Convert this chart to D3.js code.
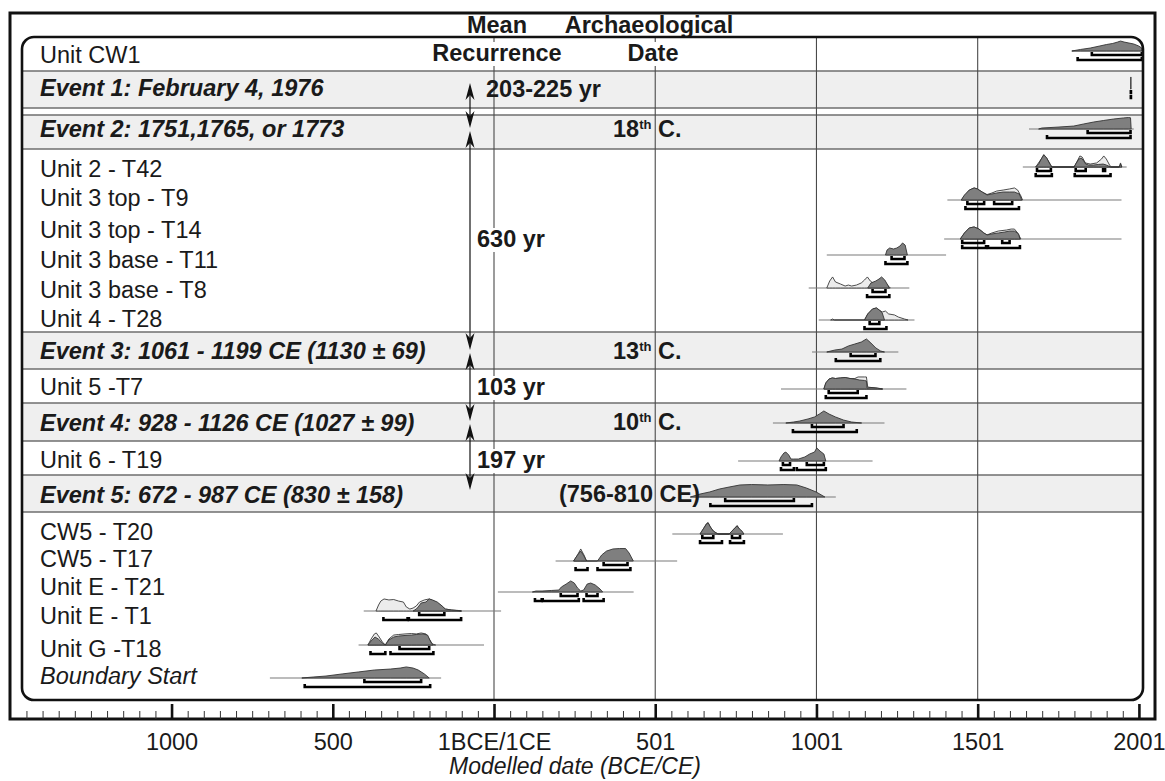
<!DOCTYPE html>
<html>
<head>
<meta charset="utf-8">
<script src="https://cdn.jsdelivr.net/npm/d3@7"></script>
<style>
  body { margin: 0; background: #fff; }
  svg { display: block; }
  text { font-family: "Liberation Sans", Arial, sans-serif; fill: #1a1a1a; }
</style>
</head>
<body>
<svg id="chart" width="1165" height="781"></svg>
<script>
// ---------------- data ----------------
// Row names, top to bottom
const rowLabels = [
  "Unit CW1",
  "Event 1: February 4, 1976",
  "Event 2: 1751,1765, or 1773",
  "Unit 2 - T42",
  "Unit 3 top - T9",
  "Unit 3 top - T14",
  "Unit 3 base - T11",
  "Unit 3 base - T8",
  "Unit 4 - T28",
  "Event 3: 1061 - 1199 CE (1130 \u00b1 69)",
  "Unit 5 -T7",
  "Event 4: 928 - 1126 CE (1027 \u00b1 99)",
  "Unit 6 - T19",
  "Event 5: 672 - 987 CE (830 \u00b1 158)",
  "CW5 - T20",
  "CW5 - T17",
  "Unit E - T21",
  "Unit E - T1",
  "Unit G -T18",
  "Boundary Start"
];
const rowKinds = ["unit","event","event","unit","unit","unit","unit","unit","unit","event",
                  "unit","event","unit","event","unit","unit","unit","unit","unit","boundary"];

// Calendar span of each sample's probability line (astronomical years: 0 = 1 BCE)
const sampleSpans = [
  [1793,2010],[1975,1977],[1660,1985],[1641,1963],[1407,1947],[1397,1947],[1033,1403],
  [977,1289],[1008,1305],[987,1255],[891,1280],[866,1212],[758,1175],[610,1061],
  [554,897],[192,569],[13,434],[-403,23],[-419,-30],[-694,-163]
];

// Modelled (posterior) probability, [year, relative probability]
const posterior = [
  [[1793,0],[1820,.11],[1850,.21],[1880,.36],[1900,.46],[1920,.54],[1935,.64],[1944,.71],[1955,.64],[1970,.57],[1985,.5],[2000,.36],[2010,.21]],
  [[1975.6,0],[1976,.86],[1976.4,0]],
  [[1690,0],[1700,.07],[1753,.14],[1799,.21],[1830,.36],[1861,.5],[1892,.61],[1922,.71],[1953,.79],[1969,.82],[1975,.8],[1977,0]],
  [[1681,0],[1690,.21],[1700,.64],[1706,.86],[1715,.64],[1725,.21],[1731,0],[1800,0],[1805,.21],[1815,.57],[1822,.64],[1830,.43],[1836,.21],[1845,.14],[1860,.14],[1875,.18],[1890,.21],[1900,.14],[1913,0],[1940,0],[1944,.21],[1948,0]],
  [[1450,0],[1460,.36],[1475,.71],[1490,.86],[1500,.79],[1515,.57],[1530,.36],[1545,.43],[1560,.5],[1580,.57],[1600,.57],[1615,.57],[1630,.43],[1638,0]],
  [[1447,0],[1460,.43],[1475,.79],[1490,.86],[1505,.71],[1520,.43],[1530,.29],[1545,.36],[1565,.43],[1585,.5],[1600,.57],[1615,.57],[1628,.36],[1632,0]],
  [[1215,0],[1220,.36],[1228,.5],[1240,.43],[1250,.5],[1260,.64],[1268,.86],[1276,.71],[1283,0]],
  [[1160,0],[1170,.36],[1185,.5],[1195,.64],[1203,.79],[1213,.57],[1222,.21],[1227,0]],
  [[1150,0],[1160,.43],[1175,.79],[1187,.86],[1196,.71],[1205,.5],[1212,0]],
  [[1033,0],[1058,.14],[1080,.21],[1100,.43],[1120,.57],[1140,.71],[1156,.93],[1170,.64],[1185,.29],[1200,.07],[1212,0]],
  [[1024,0],[1030,.43],[1040,.71],[1050,.79],[1060,.75],[1075,.79],[1090,.82],[1105,.75],[1120,.71],[1135,.64],[1150,.61],[1156,.57],[1158,.07],[1170,.11],[1190,.07],[1206,0]],
  [[906,0],[930,.07],[949,.14],[975,.29],[995,.43],[1010,.64],[1024,.86],[1040,.64],[1060,.43],[1085,.21],[1110,.07],[1141,0]],
  [[885,0],[891,.29],[900,.57],[906,.64],[915,.43],[922,.14],[930,.14],[945,.14],[965,.29],[980,.5],[995,.64],[1002,.93],[1012,.71],[1024,.5],[1030,0]],
  [[610,0],[640,.21],[670,.36],[700,.57],[730,.71],[764,.86],[800,.89],[850,.86],[900,.89],[940,.86],[970,.64],[1000,.36],[1027,0]],
  [[640,0],[650,.36],[660,.71],[665,.79],[672,.5],[681,.21],[690,.07],[696,0],[730,0],[739,.21],[748,.43],[755,.57],[762,.36],[770,.21],[776,0]],
  [[248,0],[258,.36],[270,.71],[280,.36],[288,0],[322,0],[335,.43],[350,.71],[370,.86],[390,.89],[409,.89],[420,.57],[433,0]],
  [[120,0],[131,.07],[150,.07],[180,.11],[202,.14],[210,.36],[225,.57],[239,.79],[250,.64],[260,.29],[270,.07],[279,.14],[290,.57],[301,.64],[315,.5],[330,.21],[338,0]],
  [[-250,0],[-240,.14],[-234,.29],[-225,.57],[-210,.64],[-200,.86],[-190,.79],[-175,.64],[-160,.36],[-150,.14],[-130,.07],[-110,.04],[-100,0]],
  [[-390,0],[-380,.29],[-368,.57],[-358,.43],[-345,.14],[-336,0],[-325,.36],[-310,.57],[-295,.64],[-275,.68],[-255,.71],[-240,.75],[-220,.79],[-205,.71],[-195,.21],[-188,0]],
  [[-595,0],[-560,.07],[-520,.14],[-470,.29],[-420,.43],[-370,.57],[-320,.64],[-290,.71],[-271,.79],[-250,.71],[-234,.57],[-215,.29],[-200,0]]
];

// Unmodelled (calibrated only) probability, where it shows outside the modelled curve
const likelihood = [
  null, null, null,
  [[1681,0],[1700,.64],[1706,.89],[1715,.64],[1731,0],[1800,0],[1810,.43],[1818,.79],[1825,.71],[1835,.29],[1850,.21],[1870,.29],[1885,.57],[1892,.79],[1900,.57],[1910,.14],[1915,0],[1940,0],[1944,.29],[1948,0]],
  [[1450,0],[1475,.71],[1490,.86],[1500,.79],[1515,.57],[1530,.39],[1545,.5],[1560,.64],[1580,.71],[1600,.79],[1615,.86],[1625,.71],[1635,.29],[1640,0]],
  [[1447,0],[1460,.43],[1475,.79],[1490,.86],[1505,.71],[1520,.43],[1530,.29],[1545,.43],[1565,.57],[1590,.64],[1605,.71],[1615,.71],[1625,.43],[1635,0]],
  null,
  [[1033,0],[1042,.5],[1051,.79],[1060,.43],[1075,.29],[1090,.14],[1100,.21],[1110,.14],[1125,.21],[1140,.36],[1150,.57],[1159,.79],[1168,.5],[1180,.29],[1200,.57],[1210,.5],[1224,.14],[1230,0]],
  [[1045,0],[1051,.07],[1057,0],[1150,0],[1160,.43],[1175,.79],[1187,.86],[1196,.71],[1205,.57],[1215,.64],[1225,.43],[1243,.36],[1255,.21],[1274,.07],[1285,0]],
  null,
  [[1024,0],[1030,.43],[1040,.71],[1050,.79],[1060,.75],[1075,.79],[1090,.82],[1105,.75],[1120,.75],[1130,.86],[1150,.86],[1156,.86],[1160,.14],[1206,0]],
  null, null, null,
  [[640,0],[650,.36],[660,.75],[665,.82],[672,.5],[681,.21],[696,0],[730,0],[739,.21],[748,.43],[755,.61],[762,.36],[776,0]],
  [[248,0],[260,.43],[270,.86],[280,.43],[288,0]],
  null,
  [[-365,0],[-357,.43],[-350,.71],[-340,.86],[-325,.79],[-310,.82],[-295,.71],[-280,.64],[-271,.29],[-260,.14],[-250,.21],[-240,.36],[-230,.64],[-215,.79],[-200,.86],[-185,.71],[-165,.43],[-150,.14],[-130,.07],[-100,0]],
  [[-390,0],[-380,.43],[-370,.79],[-364,.86],[-355,.57],[-345,.21],[-336,0],[-325,.43],[-310,.71],[-295,.75],[-275,.79],[-255,.82],[-240,.79],[-225,.86],[-210,.79],[-200,.43],[-190,.07],[-180,0]],
  null
];

// Highest posterior density ranges
const range68 = [
  [[1855,2010]],[[1976,1976.3]],[[1842,1975]],[[1685,1728],[1805,1836],[1890,1896]],
  [[1469,1521],[1552,1608]],[[1453,1521],[1577,1600]],[[1234,1274]],[[1175,1215]],
  [[1166,1196]],[[1107,1184]],[[1039,1129]],[[987,1085]],[[897,919],[971,1024]],
  [[718,931]],[[647,681],[739,764]],[[341,415]],[[208,260],[288,322]],[[-231,-153]],
  [[-292,-200]],[[-401,-225]]
];
const range95 = [
  [[1811,2010]],[[1976,1976.3]],[[1716,1975]],[[1681,1731],[1802,1913]],
  [[1463,1629]],[[1453,1527],[1533,1632]],[[1215,1283]],[[1158,1227]],
  [[1150,1218]],[[1061,1199]],[[1030,1156]],[[928,1126]],[[891,931],[940,1030]],
  [[672,987]],[[640,708],[733,776]],[[254,291],[322,424]],[[128,149],[152,264],[279,341]],
  [[-342,-267],[-263,-101]],[[-382,-336],[-320,-187]],[[-586,-197]]
];

// Mean recurrence between successive events, and archaeological dates
const recurrenceLabels = ["203-225 yr", "630 yr", "103 yr", "197 yr"];
const archMain = ["18", "13", "10", "(756-810 CE)"];
const archSup  = ["th", "th", "th", ""];
const archTail = [" C.", " C.", " C.", ""];

// Axis
const tickYears  = [-999, -499, 1, 501, 1001, 1501, 2001];
const tickLabels = ["1000", "500", "1BCE/1CE", "501", "1001", "1501", "2001"];
const gridYears  = [1, 501, 1001, 1501];

// ---------------- layout ----------------
const labelBaseY = [63,96,137,177,206,238,268,298,327,359,395,431,468,503,540,567,595,624,657,684];
const plotBaseY  = [51,89,129,167,200,239,255,288,320,352,389,423,461,497,534,561,592,611,645,678];
const separators = [71,108,115,149,332,369,403,441,475,512];
const eventBands = [[71,108],[115,149],[332,369],[403,441],[475,512]];
const arrowSpans = [[83,128],[131,350],[353,421],[424,490]];
const recurrencePos = [[486,97],[477,247],[477,395],[477,468]];
const archPos = [[613,137],[613,359],[613,430],[700,502]];
const box = {x0: 22, y0: 37, x1: 1143, y1: 700, r: 12};
const frame = {x0: 10, y0: 13, x1: 1155, y1: 719};
const arrowX = 470;
const FS = 23.5;

// ---------------- drawing ----------------
const svg = d3.select("#chart");
const x = d3.scaleLinear().domain([-1500, 2054]).range([frame.x0, 1156]);
const h = d3.scaleLinear().domain([0, 1]).range([0, 14]);

svg.append("defs").append("clipPath").attr("id", "inner")
  .append("rect").attr("x", box.x0).attr("y", box.y0)
  .attr("width", box.x1 - box.x0).attr("height", box.y1 - box.y0)
  .attr("rx", box.r);

const inner = svg.append("g").attr("clip-path", "url(#inner)");

// shaded event rows
inner.selectAll("rect.band").data(eventBands).join("rect")
  .attr("class", "band")
  .attr("x", box.x0).attr("width", box.x1 - box.x0)
  .attr("y", d => d[0]).attr("height", d => d[1] - d[0])
  .attr("fill", "#efefef");

// row separators
inner.selectAll("line.sep").data(separators).join("line")
  .attr("x1", box.x0).attr("x2", box.x1)
  .attr("y1", d => d).attr("y2", d => d)
  .attr("stroke", "#6e6e6e").attr("stroke-width", 1.4);

// vertical grid
inner.selectAll("line.grid").data(gridYears).join("line")
  .attr("x1", d => x(d)).attr("x2", d => x(d))
  .attr("y1", box.y0).attr("y2", box.y1)
  .attr("stroke", "#4a4a4a").attr("stroke-width", 1.1);

// probability lines
rowLabels.forEach((_, i) => {
  const base = plotBaseY[i];
  inner.append("line")
    .attr("x1", x(sampleSpans[i][0])).attr("x2", x(sampleSpans[i][1]))
    .attr("y1", base).attr("y2", base)
    .attr("stroke", "#7a7a7a").attr("stroke-width", 1.1);
});

// distributions
rowLabels.forEach((_, i) => {
  const base = plotBaseY[i];
  const area = d3.area().x(d => x(d[0])).y0(base).y1(d => base - h(d[1]));
  if (likelihood[i]) {
    inner.append("path").attr("d", area(likelihood[i]))
      .attr("fill", "#ececec").attr("stroke", "#3a3a3a").attr("stroke-width", 0.9);
  }
  inner.append("path").attr("d", area(posterior[i]))
    .attr("fill", "#7f7f7f").attr("stroke", "#333").attr("stroke-width", 0.9);
});

// ranges (68.2% above, 95.4% below)
function bracket(a, b, y) {
  return `M${x(a)},${y - 3}V${y}H${x(b)}V${y - 3}`;
}
rowLabels.forEach((_, i) => {
  const base = plotBaseY[i];
  range68[i].forEach(r => inner.append("path").attr("d", bracket(r[0], r[1], base + 4))
    .attr("fill", "none").attr("stroke", "#000").attr("stroke-width", 2.6));
  range95[i].forEach(r => inner.append("path").attr("d", bracket(r[0], r[1], base + 9))
    .attr("fill", "none").attr("stroke", "#000").attr("stroke-width", 2.6));
});

// row labels
svg.selectAll("text.row").data(rowLabels).join("text")
  .attr("class", "row")
  .attr("x", 40).attr("y", (d, i) => labelBaseY[i])
  .attr("font-size", FS)
  .attr("font-weight", (d, i) => rowKinds[i] === "event" ? "bold" : "normal")
  .attr("font-style", (d, i) => rowKinds[i] === "unit" ? "normal" : "italic")
  .text(d => d);

// headers
function labelWithBg(txt, cx, y, anchor, bg) {
  const g = svg.append("g");
  const r = g.append("rect").attr("fill", bg);
  const t = g.append("text").attr("x", cx).attr("y", y)
    .attr("text-anchor", anchor).attr("font-size", FS).attr("font-weight", "bold").text(txt);
  if (bg) {
    const bb = t.node().getBBox();
    r.attr("x", bb.x - 2).attr("y", bb.y + 2).attr("width", bb.width + 4).attr("height", bb.height - 2);
  } else r.remove();
  return t;
}
labelWithBg("Mean", 497, 33, "middle", null);
labelWithBg("Archaeological", 649, 33, "middle", null);
labelWithBg("Recurrence", 497, 61, "middle", "#fff");
labelWithBg("Date", 653, 61, "middle", "#fff");

// recurrence arrows
function head(xp, yp, dir) {
  // dir = -1 points up, +1 points down
  const L = 17, w = 4.5, n = 12;
  return `M${xp},${yp}L${xp - w},${yp - dir * L}L${xp},${yp - dir * n}L${xp + w},${yp - dir * L}Z`;
}
arrowSpans.forEach(([y0, y1]) => {
  svg.append("line").attr("x1", arrowX).attr("x2", arrowX)
    .attr("y1", y0 + 4).attr("y2", y1 - 4)
    .attr("stroke", "#111").attr("stroke-width", 1.2);
  svg.append("path").attr("d", head(arrowX, y0, -1)).attr("fill", "#111");
  svg.append("path").attr("d", head(arrowX, y1, 1)).attr("fill", "#111");
});
recurrenceLabels.forEach((txt, i) => {
  labelWithBg(txt, recurrencePos[i][0], recurrencePos[i][1], "start", i === 0 ? null : "#fff");
});

// archaeological dates
archMain.forEach((txt, i) => {
  const t = svg.append("text").attr("x", archPos[i][0]).attr("y", archPos[i][1])
    .attr("font-size", FS).attr("font-weight", "bold")
    .attr("text-anchor", archSup[i] ? "start" : "end");
  t.append("tspan").text(txt);
  if (archSup[i]) {
    t.append("tspan").attr("font-size", 13).attr("dy", -8).text(archSup[i]);
    t.append("tspan").attr("dy", 8).text(archTail[i]);
  }
});

// inner rounded box and outer frame
svg.append("rect").attr("x", box.x0).attr("y", box.y0)
  .attr("width", box.x1 - box.x0).attr("height", box.y1 - box.y0).attr("rx", box.r)
  .attr("fill", "none").attr("stroke", "#111").attr("stroke-width", 2.6);
svg.append("rect").attr("x", frame.x0).attr("y", frame.y0)
  .attr("width", frame.x1 - frame.x0).attr("height", frame.y1 - frame.y0)
  .attr("fill", "none").attr("stroke", "#111").attr("stroke-width", 3);

// axis: minor ticks every 50 years, major ticks with labels
const minorTicks = d3.range(-1449, 2002, 50).filter(v => !tickYears.includes(v));
const minorAxis = d3.axisBottom(x).tickValues(minorTicks).tickSizeInner(-8).tickSizeOuter(0).tickFormat("");
const gMinor = svg.append("g").attr("transform", `translate(0,${frame.y1})`).call(minorAxis);
gMinor.select(".domain").remove();
gMinor.selectAll(".tick line").attr("stroke", "#333").attr("stroke-width", 1);

const majorAxis = d3.axisBottom(x).tickValues(tickYears).tickSizeInner(-15).tickSizeOuter(0)
  .tickPadding(14).tickFormat((d, i) => tickLabels[i]);
const gMajor = svg.append("g").attr("transform", `translate(0,${frame.y1})`).call(majorAxis);
gMajor.select(".domain").remove();
gMajor.selectAll(".tick line").attr("stroke", "#111").attr("stroke-width", 2.6);
gMajor.selectAll(".tick text").attr("font-size", 23.5).attr("fill", "#1a1a1a")
  .attr("font-family", "'Liberation Sans', Arial, sans-serif");

svg.append("text").attr("x", 575).attr("y", 774).attr("text-anchor", "middle")
  .attr("font-size", 23).attr("font-style", "italic").text("Modelled date (BCE/CE)");
</script>
</body>
</html>
